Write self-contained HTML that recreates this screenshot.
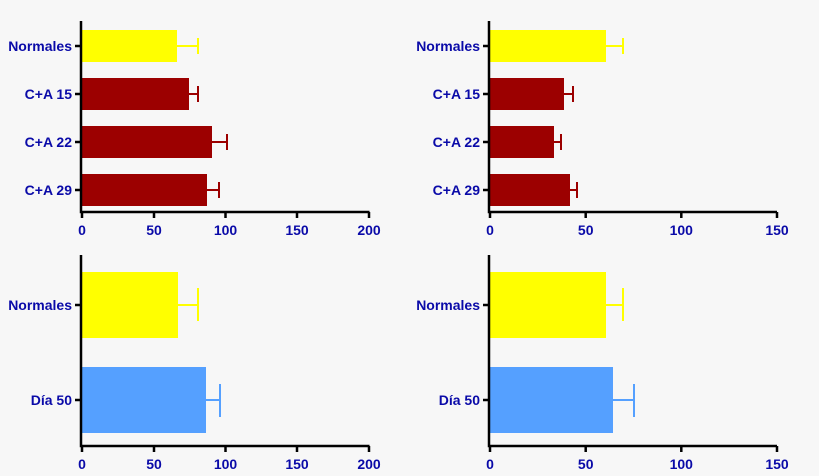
<!DOCTYPE html>
<html><head><style>
html,body{margin:0;padding:0;background:#f7f7f7;overflow:hidden;width:819px;height:476px;}
svg{display:block;}
text{font-family:"Liberation Sans",Arial,sans-serif;font-weight:bold;fill:#0a0aa8;font-size:14px;}
</style></head><body>
<svg width="819" height="476" xmlns="http://www.w3.org/2000/svg">
<rect width="819" height="476" fill="#f7f7f7"/>
<g stroke-width="2">
<rect x="82" y="30" width="95" height="32" fill="#ffff00"/>
<line x1="177" y1="46" x2="198" y2="46" stroke="#ffff00"/><line x1="198" y1="38" x2="198" y2="54" stroke="#ffff00"/>
<rect x="82" y="78" width="107" height="32" fill="#9c0000"/>
<line x1="189" y1="94" x2="198" y2="94" stroke="#9c0000"/><line x1="198" y1="86" x2="198" y2="102" stroke="#9c0000"/>
<rect x="82" y="126" width="130" height="32" fill="#9c0000"/>
<line x1="212" y1="142" x2="227" y2="142" stroke="#9c0000"/><line x1="227" y1="134" x2="227" y2="150" stroke="#9c0000"/>
<rect x="82" y="174" width="125" height="32" fill="#9c0000"/>
<line x1="207" y1="190" x2="219" y2="190" stroke="#9c0000"/><line x1="219" y1="182" x2="219" y2="198" stroke="#9c0000"/>
<rect x="490" y="30" width="116" height="32" fill="#ffff00"/>
<line x1="606" y1="46" x2="623" y2="46" stroke="#ffff00"/><line x1="623" y1="38" x2="623" y2="54" stroke="#ffff00"/>
<rect x="490" y="78" width="74" height="32" fill="#9c0000"/>
<line x1="564" y1="94" x2="573" y2="94" stroke="#9c0000"/><line x1="573" y1="86" x2="573" y2="102" stroke="#9c0000"/>
<rect x="490" y="126" width="64" height="32" fill="#9c0000"/>
<line x1="554" y1="142" x2="561" y2="142" stroke="#9c0000"/><line x1="561" y1="134" x2="561" y2="150" stroke="#9c0000"/>
<rect x="490" y="174" width="80" height="32" fill="#9c0000"/>
<line x1="570" y1="190" x2="577" y2="190" stroke="#9c0000"/><line x1="577" y1="182" x2="577" y2="198" stroke="#9c0000"/>
<rect x="82" y="272" width="96" height="66" fill="#ffff00"/>
<line x1="178" y1="305" x2="198" y2="305" stroke="#ffff00"/><line x1="198" y1="288" x2="198" y2="321" stroke="#ffff00"/>
<rect x="82" y="367" width="124" height="66" fill="#55a0ff"/>
<line x1="206" y1="400" x2="220" y2="400" stroke="#55a0ff"/><line x1="220" y1="384" x2="220" y2="417" stroke="#55a0ff"/>
<rect x="490" y="272" width="116" height="66" fill="#ffff00"/>
<line x1="606" y1="305" x2="623" y2="305" stroke="#ffff00"/><line x1="623" y1="288" x2="623" y2="321" stroke="#ffff00"/>
<rect x="490" y="367" width="123" height="66" fill="#55a0ff"/>
<line x1="613" y1="400" x2="634" y2="400" stroke="#55a0ff"/><line x1="634" y1="384" x2="634" y2="417" stroke="#55a0ff"/>
</g>
<g stroke="#000" stroke-width="2.5" fill="none">
<path d="M81,21V212H369.5"/><path d="M489,21V212H777"/>
<path d="M81,255V446H369.5"/><path d="M489,255V446H777"/>
<path d="M75,46H81M75,94H81M75,142H81M75,190H81"/>
<path d="M483,46H489M483,94H489M483,142H489M483,190H489"/>
<path d="M75,305H81M75,400H81M483,305H489M483,400H489"/>
<path d="M82,212V218M154,212V218M225.5,212V218M297,212V218M369,212V218"/>
<path d="M490,212V218M585.7,212V218M681.3,212V218M777,212V218"/>
<path d="M82,446V452M154,446V452M225.5,446V452M297,446V452M369,446V452"/>
<path d="M490,446V452M585.7,446V452M681.3,446V452M777,446V452"/>
</g>
<g text-anchor="end">
<text x="72" y="51">Normales</text><text x="72" y="99">C+A 15</text><text x="72" y="147">C+A 22</text><text x="72" y="195">C+A 29</text>
<text x="480" y="51">Normales</text><text x="480" y="99">C+A 15</text><text x="480" y="147">C+A 22</text><text x="480" y="195">C+A 29</text>
<text x="72" y="310">Normales</text><text x="72" y="405">Día 50</text>
<text x="480" y="310">Normales</text><text x="480" y="405">Día 50</text>
</g>
<g text-anchor="middle">
<text x="82" y="235">0</text><text x="154" y="235">50</text><text x="225.5" y="235">100</text><text x="297" y="235">150</text><text x="369" y="235">200</text>
<text x="490" y="235">0</text><text x="585.7" y="235">50</text><text x="681.3" y="235">100</text><text x="777" y="235">150</text>
<text x="82" y="469">0</text><text x="154" y="469">50</text><text x="225.5" y="469">100</text><text x="297" y="469">150</text><text x="369" y="469">200</text>
<text x="490" y="469">0</text><text x="585.7" y="469">50</text><text x="681.3" y="469">100</text><text x="777" y="469">150</text>
</g>
</svg>
</body></html>
